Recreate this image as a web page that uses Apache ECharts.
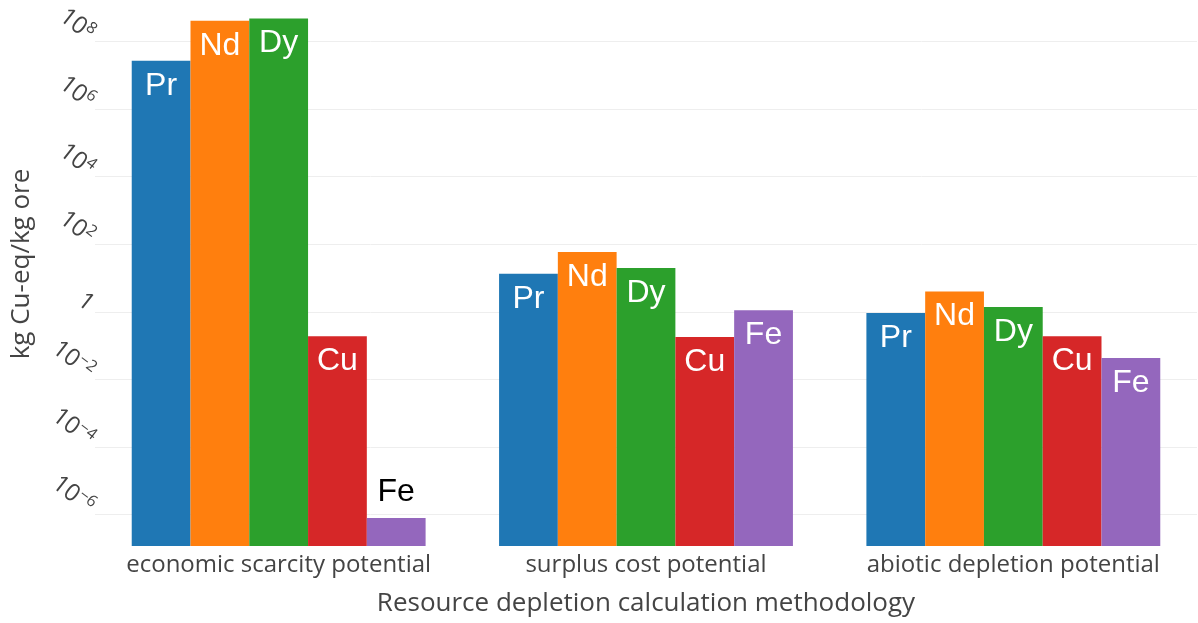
<!DOCTYPE html>
<html>
<head>
<meta charset="utf-8">
<script src="https://cdn.jsdelivr.net/npm/echarts@6/dist/echarts.min.js"></script>
<style>
  html, body { margin: 0; padding: 0; background: #fff; }
  #chart { width: 1198px; height: 623px; }
</style>
</head>
<body>
<div id="chart"></div>
<script>
// Resource depletion per kg ore, three methodologies, five elements
const categories = ['economic scarcity potential', 'surplus cost potential', 'abiotic depletion potential'];
const elements = ['Pr', 'Nd', 'Dy', 'Cu', 'Fe'];
const valuesPr = [2.7e7, 13.4, 0.93];
const valuesNd = [4.1e8, 58.6, 4.0];
const valuesDy = [4.8e8, 19.7, 1.38];
const valuesCu = [0.19, 0.18, 0.19];
const valuesFe = [7.9e-7, 1.12, 0.043];
const tickExponents = [-6, -4, -2, 0, 2, 4, 6, 8];

const seriesValues = [valuesPr, valuesNd, valuesDy, valuesCu, valuesFe];
const colors = ['#1f77b4', '#ff7f0e', '#2ca02c', '#d62728', '#9467bd'];

// Log-scale range (decades) of the value axis
const LOG_MIN = -6.93;
const LOG_MAX = 9.17;

// Bars grow from the bottom of the log range: plot log10(v) shifted by LOG_MIN
const toAxis = v => Math.log10(v) - LOG_MIN;
const tickValues = tickExponents.map(e => e - LOG_MIN);

const supDigits = s => s.replace('-', '\u2212');

const series = elements.map((name, i) => ({
  name: name,
  type: 'bar',
  barGap: '0%',
  barCategoryGap: '20%',
  itemStyle: { color: colors[i] },
  label: {
    show: true,
    position: 'insideTop',
    distance: 9,
    formatter: name,
    color: '#fff',
    fontSize: 32,
    fontFamily: 'Liberation Sans, Arial, sans-serif'
  },
  data: seriesValues[i].map(v => {
    const h = toAxis(v);
    // too short to hold its label inside: put the label above the bar
    if (h < 1.5) {
      return { value: h, label: { position: 'top', color: '#000', distance: 10 } };
    }
    return h;
  })
}));

const chart = echarts.init(document.getElementById('chart'), null, { renderer: 'canvas' });
chart.setOption({
  backgroundColor: '#fff',
  animation: false,
  grid: { left: 95, right: 1, top: 2, bottom: 77 },
  xAxis: {
    type: 'category',
    data: categories,
    axisLine: { show: false },
    axisTick: { show: false },
    axisLabel: {
      interval: 0,
      hideOverlap: false,
      margin: 7,
      fontSize: 24,
      color: '#444',
      fontFamily: 'Open Sans, sans-serif'
    },
    name: 'Resource depletion calculation methodology',
    nameLocation: 'middle',
    nameGap: 45,
    nameTextStyle: { fontSize: 26, color: '#444', fontFamily: 'Open Sans, sans-serif' }
  },
  yAxis: {
    type: 'value',
    min: 0,
    max: LOG_MAX - LOG_MIN,
    axisLine: { show: false },
    axisTick: { show: false, customValues: tickValues },
    splitLine: { show: true, lineStyle: { color: '#eee', width: 1 } },
    axisLabel: {
      customValues: tickValues,
      rotate: -38,
      margin: 8,
      padding: [0, 0, 14, 0],
      color: '#444',
      formatter: function (val) {
        const e = Math.round(val + LOG_MIN);
        if (e === 0) return '{b|1}';
        return '{b|10}{s|' + supDigits(String(e)) + '}';
      },
      rich: {
        b: { fontSize: 24, lineHeight: 28, color: '#444', fontFamily: 'Open Sans, sans-serif' },
        s: { fontSize: 16, lineHeight: 16, verticalAlign: 'top', color: '#444', fontFamily: 'Open Sans, sans-serif' }
      }
    },
    name: 'kg Cu-eq/kg ore',
    nameLocation: 'middle',
    nameRotate: 90,
    nameGap: 60,
    nameTextStyle: { fontSize: 26, color: '#444', fontFamily: 'Open Sans, sans-serif', padding: [0, 0, 0, 20] }
  },
  series: series
});
</script>
</body>
</html>
